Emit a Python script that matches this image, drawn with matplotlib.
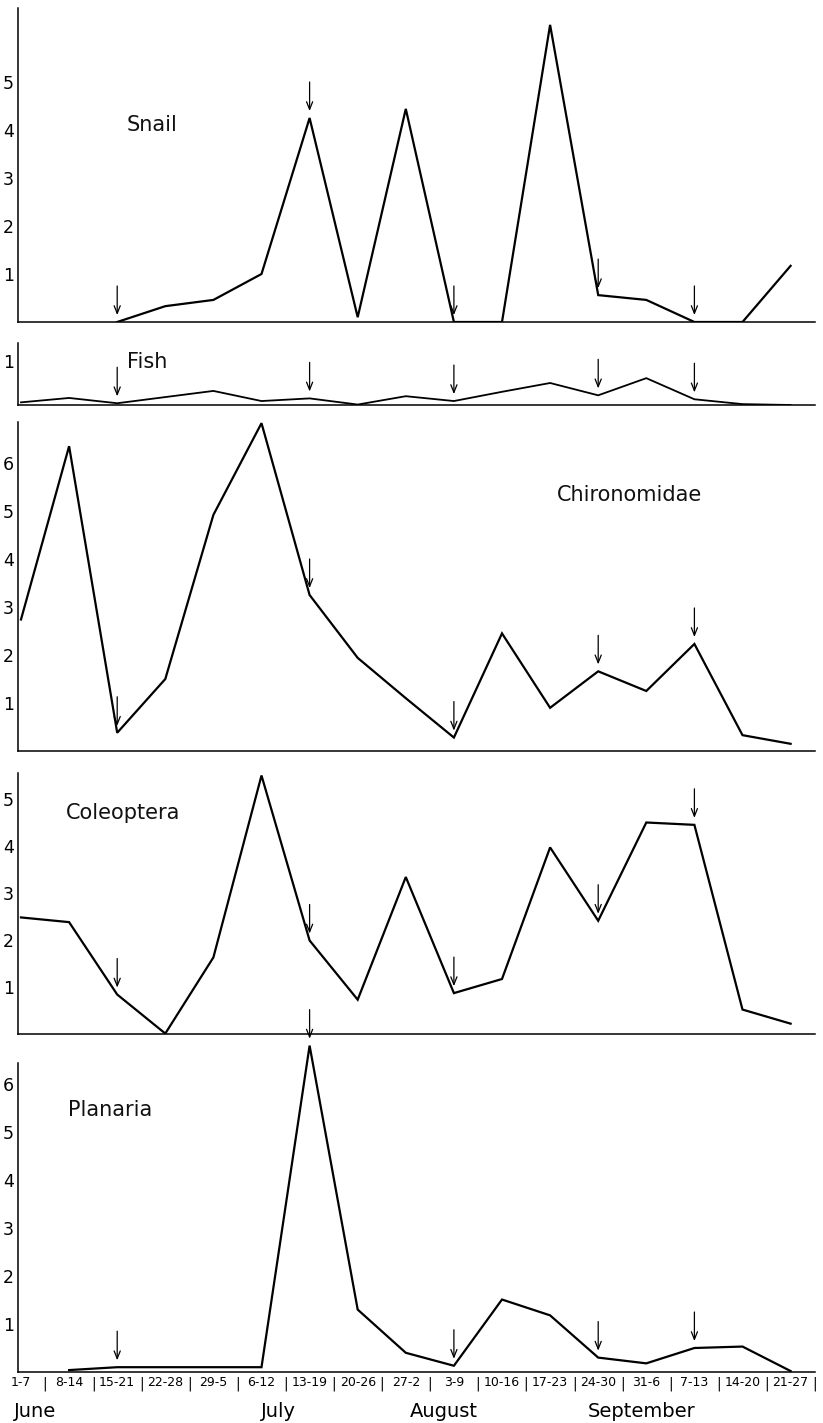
import numpy as np
import matplotlib
matplotlib.use("Agg")
import matplotlib.pyplot as plt

# weekly sampling periods (June - September)
weeks = ["1-7", "8-14", "15-21", "22-28", "29-5", "6-12", "13-19", "20-26",
         "27-2", "3-9", "10-16", "17-23", "24-30", "31-6", "7-13", "14-20", "21-27"]
months = ["June", "July", "August", "September"]

nan = np.nan
snail = [nan, nan, 0, 0.33, 0.46, 1.0, 4.25, 0.1, 4.44, 0, 0, 6.19, 0.56, 0.46, 0, 0, 1.17]
fish = [0.06, 0.16, 0.04, 0.18, 0.32, 0.09, 0.15, 0.01, 0.2, 0.09, 0.3, 0.5, 0.22, 0.61, 0.13, 0.02, 0.0]
chironomidae = [2.74, 6.35, 0.38, 1.5, 4.92, 6.83, 3.25, 1.94, 1.1, 0.28, 2.45, 0.9, 1.66, 1.25, 2.23, 0.33, 0.15]
coleoptera = [2.48, 2.38, 0.84, 0.01, 1.63, 5.5, 1.99, 0.73, 3.34, 0.87, 1.17, 3.97, 2.41, 4.5, 4.45, 0.52, 0.22]
planaria = [nan, 0.04, 0.1, 0.1, 0.1, 0.1, 6.8, 1.3, 0.4, 0.13, 1.51, 1.18, 0.3, 0.18, 0.5, 0.53, 0.02]

# weeks marked with an arrow
arrow_weeks = [2, 6, 9, 12, 14]

W, H = 823, 1423
fig = plt.figure(figsize=(W / 100, H / 100), dpi=100)

LEFT, RIGHT = 18, 815  # pixels
X0, DX = 21, 48.1      # pixel of first week, pixels per week


def add_panel(top, bottom, unit):
    ax = fig.add_axes([LEFT / W, 1 - bottom / H, (RIGHT - LEFT) / W, (bottom - top) / H])
    ax.set_xlim((LEFT - X0) / DX, (RIGHT - X0) / DX)
    ax.set_ylim(0, (bottom - top) / unit)
    for s in ["top", "right"]:
        ax.spines[s].set_visible(False)
    ax.spines["left"].set_linewidth(1.1)
    ax.spines["bottom"].set_linewidth(1.1)
    ax.tick_params(axis="both", length=0, labelsize=12.5, pad=3)
    ax.set_xticks([])
    ax.patch.set_alpha(0)
    return ax


# name, values, top px, bottom px, px per unit, yticks, label position, line width
panels = [
    ("Snail", snail, 8, 322, 48, [1, 2, 3, 4, 5], (2.2, 4.1), 1.6),
    ("Fish", fish, 343, 405, 44, [1], (2.2, 0.98), 1.3),
    ("Chironomidae", chironomidae, 422, 751, 48, [1, 2, 3, 4, 5, 6], (11.14, 5.33), 1.6),
    ("Coleoptera", coleoptera, 773, 1034, 47, [1, 2, 3, 4, 5], (0.94, 4.7), 1.6),
    ("Planaria", planaria, 1063, 1372, 48, [1, 2, 3, 4, 5, 6], (0.98, 5.46), 1.6),
]

x = np.arange(len(weeks))
axes = []
for name, vals, top, bottom, unit, yt, (lx, ly), lw in panels:
    ax = add_panel(top, bottom, unit)
    # planaria peak runs past the top of its axis
    ax.plot(x, vals, color="black", lw=lw, solid_joinstyle="miter",
            clip_on=(name != "Planaria"), zorder=3)
    ax.set_yticks(yt)
    ax.set_yticklabels([str(t) for t in yt])
    ax.text(lx, ly, name, fontsize=15, ha="left", va="center", color="#111111")
    for w in arrow_weeks:
        v = vals[w] if not np.isnan(vals[w]) else 0
        ax.annotate("", xy=(w, v), xytext=(0, 36), textcoords="offset pixels",
                    xycoords="data", annotation_clip=False,
                    arrowprops=dict(arrowstyle="->,head_length=0.55,head_width=0.22",
                                    color="black", lw=0.9, shrinkA=0, shrinkB=5))
    axes.append(ax)

# week labels with separators along the bottom panel
ax = axes[-1]
ax.set_xticks(x)
ax.set_xticklabels(weeks, fontsize=9)
ax.set_xticks(x + 0.5, minor=True)
ax.set_xticklabels(["|"] * len(weeks), minor=True, fontsize=10)
ax.tick_params(axis="x", which="both", length=0, pad=3)

month_pos = [0.3, 5.35, 8.8, 12.9]
for m, p in zip(months, month_pos):
    ax.text(p, -0.128, m, fontsize=14, ha="center", va="center",
            transform=ax.get_xaxis_transform())

fig.savefig("out.png", dpi=100, facecolor="white")
